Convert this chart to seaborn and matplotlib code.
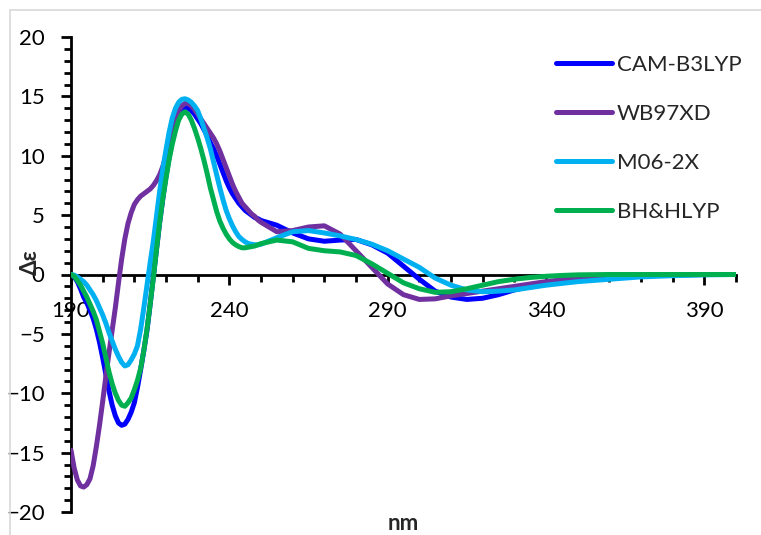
import matplotlib
matplotlib.use("Agg")
import pandas as pd
import matplotlib.pyplot as plt
import seaborn as sns
from matplotlib.lines import Line2D

# DATA
# wavelength grid (nm): 1 nm steps over the busy band, then coarser
wavelength = list(range(190, 251)) + list(range(255, 351, 5)) + [360, 370, 380, 390, 400]

cam_b3lyp = [0, -0.2, -0.6, -1.2, -1.9, -2.4, -3.0, -3.7, -4.6, -5.7,
             -7.0, -8.4, -9.8, -11.0, -11.9, -12.5, -12.7, -12.6, -12.2, -11.6,
             -10.8, -9.5, -8.0, -6.4, -4.7, -2.5, -0.2, 2.1, 4.4, 6.4,
             8.3, 9.9, 11.3, 12.4, 13.2, 13.7, 14.0, 14.0, 13.8, 13.5,
             13.1, 12.7, 12.2, 11.7, 11.1, 10.6, 10.0, 9.3, 8.6, 7.9,
             7.3, 6.8, 6.4, 6.0, 5.7, 5.4, 5.2, 5.0, 4.8, 4.7,
             4.55,
             4.15, 3.5, 3.0, 2.8, 2.9, 2.95, 2.5, 1.8, 0.7, -0.4,
             -1.4, -1.9, -2.1, -2.0, -1.7, -1.3, -1.0, -0.75, -0.55, -0.4,
             -0.2, -0.1, -0.05, 0, 0]

wb97xd = [-14.8, -16.3, -17.3, -17.8, -17.9, -17.7, -17.2, -16.1, -14.5, -12.7,
          -10.7, -8.6, -6.6, -4.7, -2.8, -0.7, 1.3, 3.0, 4.3, 5.2,
          5.9, 6.3, 6.6, 6.8, 7.0, 7.2, 7.5, 7.9, 8.4, 9.1,
          10.0, 11.1, 12.2, 13.1, 13.8, 14.2, 14.4, 14.4, 14.2, 13.9,
          13.5, 13.1, 12.7, 12.3, 11.9, 11.5, 11.0, 10.4, 9.7, 9.0,
          8.3, 7.6, 7.0, 6.5, 6.0, 5.7, 5.4, 5.1, 4.9, 4.6,
          4.4,
          3.6, 3.7, 4.0, 4.1, 3.4, 2.0, 0.6, -0.8, -1.7, -2.1,
          -2.05, -1.8, -1.6, -1.4, -1.2, -1.0, -0.8, -0.6, -0.45, -0.3,
          -0.1, -0.05, 0, 0, 0]

m06_2x = [0, -0.05, -0.2, -0.4, -0.6, -0.9, -1.3, -1.7, -2.2, -2.8,
          -3.4, -4.1, -4.9, -5.6, -6.3, -6.9, -7.4, -7.7, -7.6, -7.2,
          -6.7, -6.0, -4.6, -2.8, -0.9, 1.0, 2.8, 4.9, 7.0, 8.9,
          10.5, 12.0, 13.2, 14.0, 14.5, 14.75, 14.8, 14.7, 14.5, 14.2,
          13.8, 13.1, 12.3, 11.5, 10.6, 9.5, 8.4, 7.3, 6.3, 5.4,
          4.7, 4.1, 3.6, 3.2, 2.95, 2.75, 2.6, 2.55, 2.5, 2.5,
          2.55,
          3.1, 3.6, 3.7, 3.5, 3.25, 2.95, 2.55, 2.0, 1.3, 0.6,
          -0.3, -0.9, -1.3, -1.45, -1.4, -1.3, -1.1, -0.9, -0.75, -0.6,
          -0.4, -0.2, -0.1, -0.03, 0]

bhhlyp = [0, -0.15, -0.5, -0.9, -1.4, -1.9, -2.5, -3.1, -3.8, -4.8,
          -5.8, -7.0, -8.2, -9.2, -10.0, -10.6, -11.0, -11.1, -10.8, -10.4,
          -9.7, -8.9, -7.9, -6.4, -4.6, -2.5, -0.3, 2.1, 4.4, 6.4,
          8.1, 9.7, 11.0, 12.1, 13.0, 13.5, 13.7, 13.5, 13.0, 12.3,
          11.5, 10.6, 9.6, 8.5, 7.3, 6.3, 5.3, 4.5, 3.9, 3.4,
          3.0, 2.7, 2.5, 2.35, 2.25, 2.25, 2.3, 2.35, 2.4, 2.5,
          2.6,
          2.9, 2.75, 2.2, 2.0, 1.9, 1.6, 0.9, 0.1, -0.7, -1.2,
          -1.5, -1.45, -1.2, -0.9, -0.6, -0.4, -0.25, -0.15, -0.08, -0.03,
          0, 0, 0, 0, 0]

series_names = ["CAM-B3LYP", "WB97XD", "M06-2X", "BH&HLYP"]
series_values = [cam_b3lyp, wb97xd, m06_2x, bhhlyp]
palette = {
    "CAM-B3LYP": "#0000FF",
    "WB97XD": "#7030A0",
    "M06-2X": "#00B0F0",
    "BH&HLYP": "#00B050",
}

# Long-form table
frames = []
for name, vals in zip(series_names, series_values):
    frames.append(pd.DataFrame({"nm": wavelength, "de": vals, "method": name}))
df = pd.concat(frames, ignore_index=True)

sns.set_theme(style="white")
plt.rcParams["font.family"] = ["Lato", "DejaVu Sans"]

fig = plt.figure(figsize=(7.61, 5.35), dpi=100)
ax = fig.add_axes([71 / 761, 1 - 512 / 535, (736 - 71) / 761, (512 - 37) / 535])

sns.lineplot(
    data=df,
    x="nm",
    y="de",
    hue="method",
    hue_order=series_names,
    palette=palette,
    estimator=None,
    sort=False,
    linewidth=3.6,
    solid_joinstyle="round",
    solid_capstyle="round",
    legend=False,
    ax=ax,
)

# Limits
ax.set_xlim(190, 400)
ax.set_ylim(-20, 20)

# Spines
for s in ["top", "right"]:
    ax.spines[s].set_visible(False)
ax.spines["bottom"].set_position(("data", 0))
for s in ["left", "bottom"]:
    ax.spines[s].set_color("black")
    ax.spines[s].set_linewidth(2.0)
    ax.spines[s].set_zorder(1)

# Ticks
ax.xaxis.set_major_locator(plt.FixedLocator([190, 240, 290, 340, 390]))
ax.xaxis.set_minor_locator(plt.MultipleLocator(10))
ax.yaxis.set_major_locator(plt.MultipleLocator(5))
ax.yaxis.set_minor_locator(plt.MultipleLocator(1))
ax.tick_params(axis="both", which="major", direction="out", length=7, width=2,
               color="black", labelsize=16, labelcolor="black")
ax.tick_params(axis="both", which="minor", direction="out", length=5, width=2, color="black")
ax.tick_params(axis="x", which="both", bottom=True, pad=12)
ax.tick_params(axis="y", which="both", left=True, pad=12)
ax.set_xlabel("")
ax.set_ylabel("")

# Axis titles
fig.text(30 / 761, 1 - 262 / 535, "Δε", rotation=90, fontsize=16, fontweight="bold",
         ha="center", va="center")
fig.text(403 / 761, 1 - 523 / 535, "nm", fontsize=16, fontweight="bold",
         ha="center", va="center")

# Legend
handles = [Line2D([0], [0], color=palette[n], lw=3.6, solid_capstyle="round") for n in series_names]
fig.legend(
    handles,
    series_names,
    loc="upper left",
    bbox_to_anchor=(556 / 761, 1 - 55 / 535),
    frameon=False,
    fontsize=16,
    handlelength=2.5,
    handletextpad=0.25,
    labelspacing=1.3,
    borderpad=0,
    borderaxespad=0,
)

# Chart area border (left and top edges)
fig.add_artist(Line2D([10 / 761, 10 / 761], [0, 1 - 10 / 535], transform=fig.transFigure,
                      color="#D9D9D9", lw=1.2))
fig.add_artist(Line2D([10 / 761, 1], [1 - 10 / 535, 1 - 10 / 535], transform=fig.transFigure,
                      color="#D9D9D9", lw=1.2))

fig.savefig("out.png", dpi=100)
plt.close(fig)
